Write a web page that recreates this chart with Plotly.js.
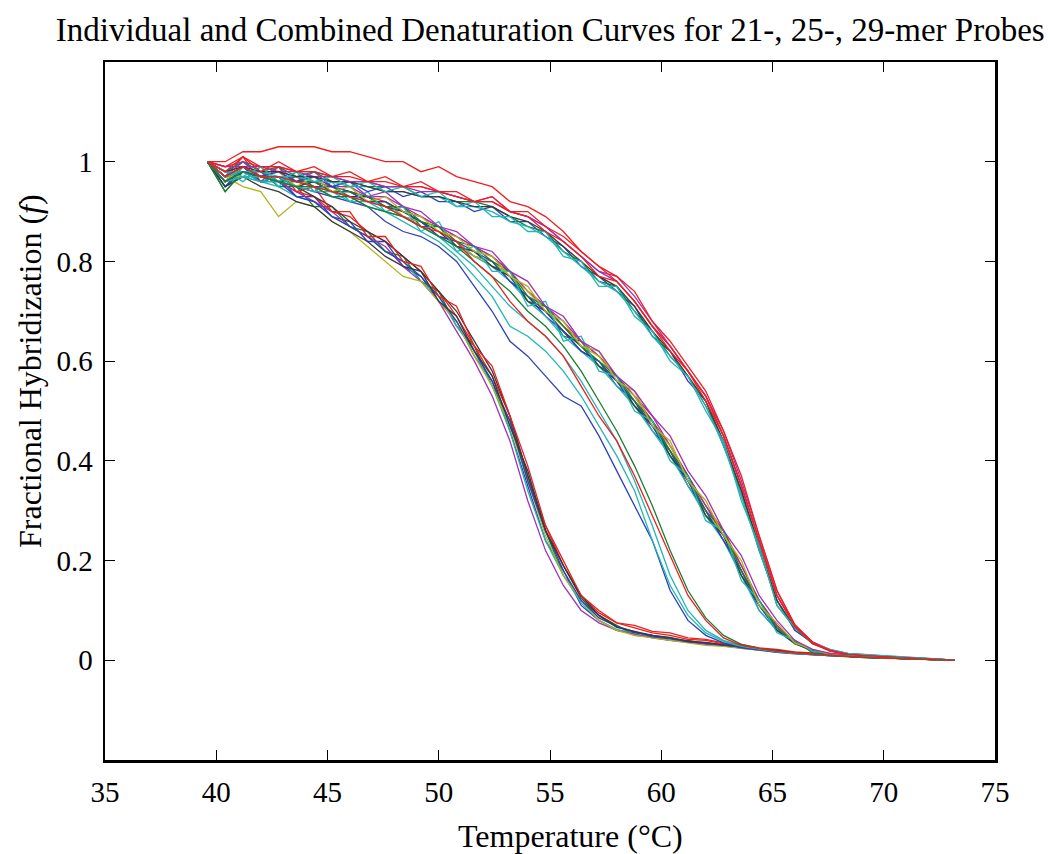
<!DOCTYPE html>
<html>
<head>
<meta charset="utf-8">
<script src="https://cdn.plot.ly/plotly-3.0.1.min.js"></script>
<style>html,body{margin:0;padding:0;background:#fff;}#chart{width:1050px;height:854px;}</style>
</head>
<body>
<div id="chart"></div>
<script>
// Temperature (°C)
const temperature = [39.6,40.4,41.2,42.0,42.8,43.6,44.4,45.2,46.0,46.8,47.6,48.4,49.2,50.0,50.8,51.6,52.4,53.2,54.0,54.8,55.6,56.4,57.2,58.0,58.8,59.6,60.4,61.2,62.0,62.8,63.6,64.4,65.2,66.0,66.8,67.6,68.4,69.2,70.0,70.8,71.6,72.4,73.2];

// Group A (lowest Tm)
const curveA1 = [1.00,0.95,0.99,0.96,0.97,0.93,0.93,0.89,0.88,0.84,0.84,0.79,0.77,0.72,0.68,0.61,0.56,0.46,0.35,0.24,0.18,0.11,0.08,0.06,0.055,0.05,0.04,0.04,0.033,0.03,0.025,0.022,0.017,0.016,0.012,0.011,0.008,0.007,0.004,0.005,0.002,0.003,0.00];
const curveA2 = [1.00,0.94,0.98,0.98,0.95,0.95,0.91,0.91,0.87,0.86,0.82,0.81,0.76,0.74,0.67,0.63,0.55,0.48,0.36,0.26,0.17,0.12,0.09,0.07,0.05,0.047,0.043,0.036,0.035,0.029,0.027,0.02,0.019,0.014,0.013,0.009,0.008,0.005,0.006,0.003,0.004,0.001,0.00];
const curveA3 = [1.00,0.97,0.99,0.97,0.96,0.94,0.93,0.90,0.89,0.86,0.84,0.81,0.78,0.74,0.69,0.63,0.57,0.49,0.37,0.27,0.19,0.13,0.095,0.075,0.065,0.055,0.05,0.042,0.04,0.033,0.03,0.024,0.02,0.016,0.014,0.01,0.009,0.006,0.005,0.004,0.002,0.002,0.00];
const curveA4 = [1.00,0.95,0.97,0.96,0.95,0.93,0.92,0.89,0.87,0.85,0.82,0.80,0.76,0.73,0.67,0.62,0.55,0.46,0.34,0.24,0.17,0.115,0.08,0.062,0.053,0.046,0.04,0.037,0.032,0.03,0.024,0.021,0.018,0.014,0.011,0.01,0.007,0.006,0.005,0.003,0.003,0.002,0.00];
const curveA5 = [1.00,0.96,0.98,0.97,0.96,0.94,0.92,0.90,0.87,0.85,0.83,0.79,0.76,0.72,0.66,0.60,0.53,0.44,0.32,0.22,0.15,0.10,0.075,0.06,0.052,0.045,0.04,0.036,0.032,0.028,0.025,0.021,0.017,0.015,0.012,0.009,0.008,0.006,0.004,0.004,0.003,0.001,0.00];
const curveA6 = [1.00,0.97,0.95,0.94,0.89,0.92,0.91,0.88,0.86,0.83,0.80,0.77,0.76,0.72,0.68,0.61,0.55,0.47,0.36,0.25,0.17,0.12,0.08,0.06,0.05,0.045,0.04,0.035,0.03,0.028,0.024,0.02,0.016,0.014,0.011,0.009,0.007,0.005,0.004,0.003,0.002,0.001,0.00];
const curveA7 = [1.00,0.96,0.99,0.97,0.97,0.95,0.93,0.91,0.88,0.86,0.84,0.81,0.78,0.74,0.70,0.64,0.58,0.49,0.37,0.26,0.19,0.13,0.09,0.068,0.056,0.05,0.044,0.039,0.035,0.031,0.027,0.023,0.019,0.015,0.013,0.01,0.008,0.006,0.005,0.004,0.003,0.002,0.00];
const curveA8 = [1.00,0.95,0.98,0.96,0.96,0.93,0.92,0.89,0.87,0.85,0.82,0.80,0.77,0.73,0.68,0.62,0.56,0.48,0.36,0.26,0.18,0.12,0.085,0.068,0.057,0.047,0.044,0.037,0.034,0.03,0.026,0.022,0.018,0.015,0.012,0.01,0.007,0.006,0.005,0.004,0.002,0.002,0.00];
const curveA9 = [1.00,0.97,1.01,0.96,0.99,0.94,0.95,0.90,0.90,0.85,0.85,0.80,0.79,0.73,0.71,0.63,0.59,0.49,0.39,0.27,0.20,0.13,0.10,0.075,0.07,0.058,0.055,0.045,0.042,0.035,0.032,0.025,0.022,0.017,0.015,0.01,0.01,0.006,0.006,0.004,0.003,0.002,0.00];
const curveA10 = [1.00,0.95,0.97,0.95,0.94,0.92,0.91,0.88,0.86,0.84,0.81,0.79,0.78,0.72,0.69,0.62,0.57,0.47,0.38,0.26,0.19,0.125,0.09,0.066,0.058,0.05,0.046,0.038,0.036,0.031,0.028,0.022,0.02,0.015,0.013,0.01,0.008,0.006,0.005,0.004,0.003,0.002,0.00];

// Group B (diverging curves)
const curveB1 = [1.00,0.96,0.98,0.97,0.96,0.95,0.94,0.93,0.92,0.91,0.88,0.86,0.85,0.83,0.80,0.75,0.70,0.64,0.61,0.57,0.53,0.51,0.45,0.38,0.31,0.24,0.14,0.08,0.05,0.035,0.025,0.02,0.016,0.013,0.011,0.009,0.007,0.006,0.005,0.004,0.003,0.002,0.00];
const curveB2 = [1.00,0.97,0.98,0.96,0.97,0.95,0.95,0.93,0.93,0.91,0.90,0.88,0.86,0.84,0.81,0.77,0.73,0.67,0.65,0.62,0.58,0.53,0.47,0.41,0.34,0.24,0.15,0.09,0.055,0.038,0.028,0.022,0.017,0.014,0.012,0.01,0.008,0.006,0.005,0.004,0.003,0.002,0.00];
const curveB3 = [1.00,0.97,0.99,0.97,0.97,0.96,0.95,0.94,0.93,0.92,0.91,0.89,0.87,0.86,0.84,0.80,0.77,0.72,0.68,0.65,0.61,0.55,0.49,0.44,0.37,0.29,0.21,0.13,0.08,0.045,0.03,0.024,0.018,0.015,0.012,0.01,0.008,0.006,0.005,0.004,0.003,0.002,0.00];
const curveB4 = [1.00,0.96,0.98,0.97,0.96,0.95,0.95,0.93,0.93,0.91,0.90,0.89,0.87,0.85,0.83,0.80,0.77,0.74,0.70,0.67,0.63,0.58,0.52,0.46,0.39,0.31,0.22,0.14,0.085,0.05,0.032,0.024,0.019,0.015,0.013,0.01,0.008,0.006,0.005,0.004,0.003,0.002,0.00];
const curveB5 = [1.00,0.96,0.97,0.97,0.96,0.95,0.94,0.94,0.92,0.92,0.90,0.89,0.87,0.85,0.82,0.79,0.75,0.71,0.68,0.65,0.61,0.56,0.50,0.44,0.36,0.27,0.17,0.10,0.06,0.04,0.03,0.023,0.018,0.014,0.012,0.01,0.008,0.006,0.005,0.004,0.003,0.002,0.00];

// Group C (middle Tm)
const curveC1 = [1.00,0.96,0.99,0.96,0.97,0.95,0.96,0.94,0.94,0.92,0.92,0.89,0.88,0.85,0.84,0.81,0.80,0.76,0.73,0.69,0.66,0.62,0.60,0.55,0.52,0.46,0.42,0.35,0.30,0.24,0.18,0.10,0.06,0.035,0.02,0.012,0.009,0.008,0.006,0.005,0.003,0.002,0.00];
const curveC2 = [1.00,0.94,0.98,0.98,0.96,0.97,0.95,0.95,0.93,0.93,0.91,0.91,0.87,0.87,0.83,0.82,0.79,0.78,0.72,0.71,0.65,0.64,0.59,0.57,0.51,0.48,0.41,0.37,0.29,0.26,0.17,0.12,0.06,0.04,0.015,0.012,0.01,0.007,0.006,0.004,0.004,0.002,0.00];
const curveC3 = [1.00,0.98,0.98,0.97,0.97,0.96,0.96,0.95,0.94,0.93,0.92,0.90,0.89,0.87,0.85,0.83,0.81,0.78,0.74,0.71,0.67,0.64,0.61,0.57,0.53,0.48,0.43,0.37,0.31,0.26,0.19,0.12,0.07,0.036,0.02,0.013,0.01,0.008,0.006,0.005,0.003,0.002,0.00];
const curveC4 = [1.00,0.96,0.97,0.96,0.96,0.95,0.95,0.94,0.93,0.92,0.91,0.89,0.87,0.85,0.83,0.81,0.79,0.76,0.72,0.69,0.65,0.62,0.59,0.55,0.51,0.46,0.41,0.35,0.29,0.24,0.17,0.10,0.06,0.033,0.02,0.012,0.009,0.007,0.006,0.005,0.004,0.002,0.00];
const curveC5 = [1.00,0.97,0.99,0.97,0.98,0.96,0.97,0.95,0.95,0.93,0.93,0.91,0.89,0.87,0.85,0.83,0.81,0.78,0.74,0.71,0.68,0.64,0.61,0.57,0.53,0.49,0.43,0.37,0.31,0.25,0.19,0.12,0.07,0.037,0.021,0.013,0.01,0.008,0.007,0.005,0.004,0.002,0.00];
const curveC6 = [1.00,0.97,0.97,0.97,0.96,0.96,0.95,0.94,0.94,0.92,0.92,0.89,0.88,0.86,0.84,0.81,0.80,0.77,0.74,0.70,0.67,0.63,0.61,0.56,0.53,0.47,0.43,0.36,0.30,0.25,0.18,0.11,0.065,0.034,0.02,0.012,0.01,0.008,0.006,0.004,0.003,0.001,0.00];
const curveC7 = [1.00,0.96,0.98,0.97,0.97,0.95,0.96,0.94,0.93,0.93,0.91,0.90,0.88,0.86,0.83,0.82,0.79,0.77,0.72,0.70,0.66,0.63,0.59,0.56,0.51,0.47,0.41,0.36,0.29,0.25,0.17,0.11,0.06,0.034,0.019,0.012,0.009,0.007,0.006,0.005,0.003,0.002,0.00];
const curveC8 = [1.00,0.97,0.98,0.96,0.97,0.96,0.95,0.95,0.94,0.92,0.92,0.90,0.88,0.85,0.84,0.82,0.80,0.76,0.73,0.70,0.66,0.62,0.60,0.56,0.52,0.47,0.42,0.36,0.30,0.24,0.18,0.11,0.065,0.035,0.02,0.012,0.01,0.008,0.006,0.005,0.004,0.002,0.00];
const curveC9 = [1.00,0.97,0.99,0.97,0.96,0.96,0.96,0.94,0.94,0.93,0.91,0.91,0.88,0.87,0.84,0.83,0.80,0.78,0.73,0.71,0.67,0.63,0.60,0.57,0.52,0.48,0.42,0.37,0.30,0.26,0.18,0.12,0.065,0.036,0.018,0.01,0.011,0.007,0.006,0.005,0.003,0.003,0.00];
const curveC10 = [1.00,0.98,0.96,0.99,0.95,0.98,0.94,0.96,0.92,0.94,0.90,0.91,0.86,0.88,0.82,0.83,0.78,0.78,0.71,0.72,0.64,0.65,0.58,0.57,0.50,0.48,0.40,0.37,0.28,0.26,0.16,0.12,0.055,0.04,0.018,0.014,0.01,0.008,0.007,0.005,0.004,0.003,0.00];
const curveC11 = [1.00,0.96,0.99,0.97,0.98,0.95,0.97,0.94,0.95,0.92,0.93,0.90,0.89,0.86,0.85,0.82,0.81,0.77,0.75,0.70,0.68,0.63,0.62,0.56,0.54,0.47,0.44,0.36,0.32,0.25,0.20,0.11,0.075,0.035,0.022,0.012,0.011,0.007,0.007,0.005,0.004,0.002,0.00];
const curveC12 = [1.00,0.97,1.00,0.97,0.99,0.96,0.98,0.95,0.96,0.93,0.94,0.91,0.90,0.87,0.86,0.83,0.82,0.78,0.76,0.71,0.69,0.64,0.62,0.57,0.54,0.49,0.45,0.38,0.33,0.26,0.21,0.13,0.08,0.04,0.022,0.014,0.011,0.008,0.007,0.005,0.004,0.002,0.00];

// Group D (highest Tm)
const curveD1 = [1.00,0.97,0.99,0.97,0.98,0.96,0.97,0.95,0.96,0.94,0.95,0.93,0.94,0.92,0.92,0.90,0.91,0.88,0.88,0.85,0.83,0.79,0.77,0.74,0.71,0.65,0.62,0.56,0.52,0.43,0.34,0.22,0.12,0.06,0.035,0.02,0.012,0.01,0.008,0.006,0.004,0.002,0.00];
const curveD2 = [1.00,0.98,1.00,0.98,0.99,0.97,0.98,0.96,0.96,0.95,0.95,0.95,0.93,0.93,0.92,0.92,0.91,0.89,0.87,0.86,0.82,0.80,0.76,0.75,0.70,0.66,0.61,0.57,0.51,0.44,0.33,0.23,0.11,0.065,0.033,0.02,0.013,0.011,0.008,0.006,0.005,0.002,0.00];
const curveD3 = [1.00,1.00,1.02,1.02,1.03,1.03,1.03,1.02,1.02,1.01,1.00,1.00,0.98,0.99,0.97,0.96,0.95,0.92,0.91,0.89,0.86,0.82,0.79,0.76,0.72,0.67,0.63,0.58,0.52,0.45,0.35,0.24,0.13,0.07,0.035,0.02,0.012,0.008,0.006,0.005,0.003,0.001,0.00];
const curveD4 = [1.00,0.98,0.98,0.98,0.97,0.97,0.96,0.96,0.95,0.95,0.94,0.94,0.93,0.93,0.91,0.91,0.90,0.88,0.87,0.85,0.82,0.79,0.76,0.74,0.70,0.65,0.61,0.57,0.51,0.43,0.33,0.22,0.12,0.065,0.036,0.021,0.014,0.011,0.009,0.007,0.005,0.003,0.00];
const curveD5 = [1.00,0.99,0.99,0.99,0.98,0.98,0.97,0.97,0.96,0.96,0.95,0.95,0.94,0.94,0.93,0.92,0.92,0.90,0.89,0.87,0.84,0.81,0.78,0.76,0.72,0.67,0.63,0.58,0.53,0.45,0.35,0.24,0.13,0.07,0.036,0.02,0.012,0.01,0.007,0.006,0.004,0.002,0.00];
const curveD6 = [1.00,0.98,1.01,0.99,0.99,0.98,0.98,0.97,0.97,0.96,0.96,0.95,0.95,0.94,0.93,0.92,0.92,0.90,0.89,0.86,0.84,0.81,0.77,0.76,0.72,0.67,0.62,0.58,0.53,0.45,0.35,0.24,0.13,0.068,0.034,0.018,0.012,0.009,0.007,0.005,0.004,0.002,0.00];
const curveD7 = [1.00,0.98,0.99,0.98,0.98,0.97,0.97,0.96,0.96,0.95,0.94,0.94,0.93,0.93,0.92,0.91,0.91,0.89,0.88,0.86,0.83,0.80,0.77,0.75,0.71,0.66,0.62,0.57,0.52,0.44,0.34,0.23,0.12,0.065,0.035,0.02,0.013,0.01,0.008,0.006,0.004,0.002,0.00];
const curveD8 = [1.00,0.99,1.00,0.99,0.99,0.98,0.98,0.97,0.96,0.96,0.95,0.95,0.95,0.94,0.93,0.92,0.93,0.90,0.89,0.87,0.84,0.81,0.78,0.77,0.73,0.68,0.63,0.58,0.53,0.46,0.36,0.25,0.14,0.07,0.037,0.021,0.013,0.01,0.008,0.006,0.004,0.002,0.00];
const curveD9 = [1.00,0.98,0.97,0.99,0.96,0.98,0.96,0.97,0.95,0.96,0.94,0.95,0.93,0.94,0.91,0.92,0.89,0.89,0.86,0.86,0.81,0.80,0.75,0.75,0.69,0.66,0.60,0.57,0.50,0.44,0.32,0.23,0.11,0.066,0.034,0.022,0.014,0.012,0.009,0.007,0.005,0.003,0.00];
const curveD10 = [1.00,0.99,1.01,0.98,1.00,0.98,0.99,0.97,0.98,0.96,0.97,0.95,0.96,0.94,0.94,0.92,0.93,0.90,0.90,0.87,0.85,0.82,0.79,0.77,0.74,0.68,0.64,0.59,0.54,0.46,0.37,0.25,0.14,0.072,0.036,0.019,0.012,0.009,0.007,0.005,0.003,0.001,0.00];

const xTickVals = [35,40,45,50,55,60,65,70,75];
const yTickVals = [0,0.2,0.4,0.6,0.8,1];
const yTickText = ['0','0.2','0.4','0.6','0.8','1'];

const C = {b:'#2d40b8', g:'#1b7d2e', r:'#f01e1e', c:'#22b5b5', m:'#a231b3', y:'#b3b31e', k:'#3a3a3a'};
const curves = [
  [curveA1,C.b],[curveA2,C.g],[curveA3,C.r],[curveA4,C.c],[curveA5,C.m],[curveA6,C.y],[curveA7,C.k],[curveA8,C.b],[curveA9,C.r],[curveA10,C.k],
  [curveC1,C.b],[curveC2,C.g],[curveC3,C.r],[curveC4,C.c],[curveC5,C.m],[curveC6,C.y],[curveC7,C.k],[curveC8,C.b],[curveC9,C.g],[curveC10,C.c],[curveC11,C.y],[curveC12,C.m],
  [curveD1,C.b],[curveD2,C.g],[curveD4,C.c],[curveD5,C.m],[curveD7,C.k],[curveD8,C.m],[curveD9,C.c],[curveD6,C.r],[curveD10,C.r],[curveD3,C.r],
  [curveB1,C.b],[curveB2,C.c],[curveB5,C.c],[curveB4,C.g],[curveB3,C.r]
];

const traces = curves.map(([ys,col]) => ({
  x: temperature, y: ys, type:'scatter', mode:'lines',
  line:{color:col, width:1.3}, hoverinfo:'skip', showlegend:false
}));

const font = '"Liberation Serif", "Times New Roman", serif';
const layout = {
  width:1050, height:854,
  margin:{l:105, r:55, t:62, b:94},
  paper_bgcolor:'#ffffff', plot_bgcolor:'#ffffff',
  showlegend:false,
  font:{family:font, color:'#000'},
  title:{text:'Individual and Combined Denaturation Curves for 21-, 25-, 29-mer Probes', font:{family:font, size:33, color:'#000'}, x:0.524, xanchor:'center', y:0.965, yanchor:'middle'},
  xaxis:{
    range:[35,75], tickvals:xTickVals, ticks:'inside', ticklen:10, tickwidth:1, tickcolor:'#000',
    showline:true, linewidth:2.5, linecolor:'#000', mirror:'ticks', showgrid:false, zeroline:false,
    tickfont:{family:font, size:29, color:'#000'}, ticklabelstandoff:5
  },
  yaxis:{
    range:[-0.2,1.2], tickvals:yTickVals, ticktext:yTickText, ticks:'inside', ticklen:10, tickwidth:1, tickcolor:'#000',
    showline:true, linewidth:2.5, linecolor:'#000', mirror:'ticks', showgrid:false, zeroline:false,
    tickfont:{family:font, size:29, color:'#000'}, ticklabelstandoff:4
  },
  annotations:[
    {text:'Temperature (°C)', xref:'paper', yref:'paper', x:0.523, y:-0.1095, xanchor:'center', yanchor:'middle', showarrow:false, font:{family:font, size:32, color:'#000'}},
    {text:'Fractional Hybridization (<i>f</i>)', xref:'paper', yref:'paper', x:-0.0845, y:0.557, xanchor:'center', yanchor:'middle', textangle:-90, showarrow:false, font:{family:font, size:32, color:'#000'}}
  ]
};

Plotly.newPlot('chart', traces, layout, {displayModeBar:false, staticPlot:true});
</script>
</body>
</html>
